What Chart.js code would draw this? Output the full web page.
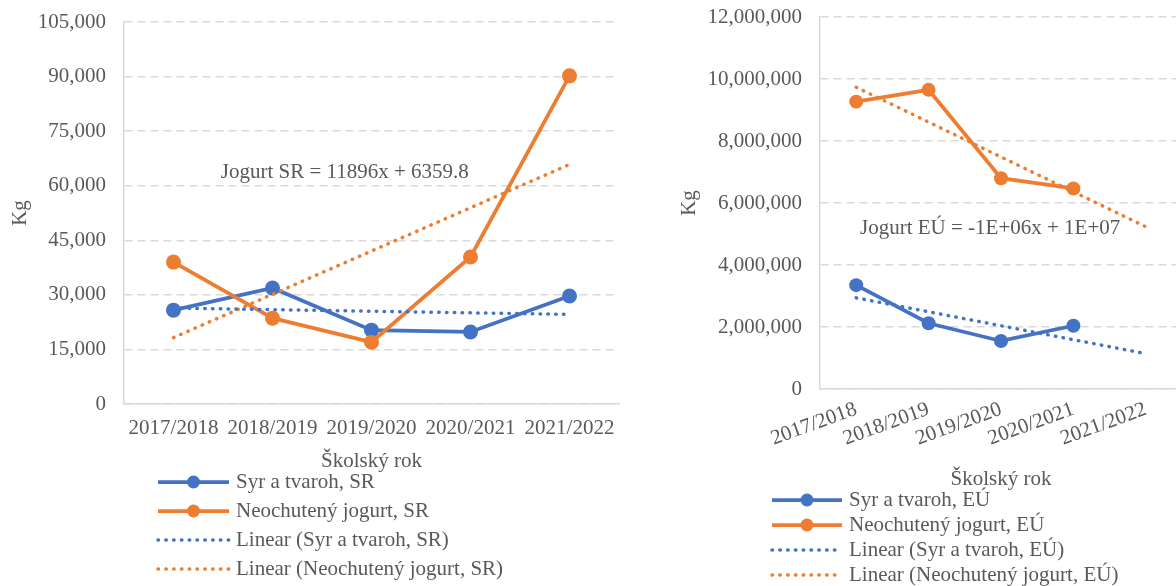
<!DOCTYPE html>
<html>
<head>
<meta charset="utf-8">
<script src="https://cdn.jsdelivr.net/npm/chart.js@4.4.0/dist/chart.umd.min.js"></script>
<style>
html, body {margin: 0; padding: 0; background: #fff; overflow: hidden; width: 1176px; height: 586px;}
#wrapSR {position: absolute; left: 0; top: 0; width: 640px; height: 586px;}
#wrapEU {position: absolute; left: 660px; top: 0; width: 540px; height: 586px;}
</style>
</head>
<body>
<div id="wrapSR"><canvas id="chartSR"></canvas></div>
<div id="wrapEU"><canvas id="chartEU"></canvas></div>
<script>
var years = ["2017/2018", "2018/2019", "2019/2020", "2020/2021", "2021/2022"];

// Slovensko (SR), kg
var syrSR = [25800, 31900, 20300, 19800, 29700];
var jogurtSR = [39000, 23600, 17000, 40400, 90200];
var trendSyrSR = [26360, 25930, 25500, 25070, 24640];
var trendJogurtSR = [18256, 30152, 42048, 53944, 65840];
var ticksSR = [0, 15000, 30000, 45000, 60000, 75000, 90000, 105000];

// EU, kg
var syrEU = [3350000, 2120000, 1550000, 2040000, null];
var jogurtEU = [9270000, 9650000, 6800000, 6470000, null];
var trendSyrEU = [2940000, 2490000, 2040000, 1590000, 1140000];
var trendJogurtEU = [9735000, 8610000, 7485000, 6360000, 5235000];
var ticksEU = [0, 2000000, 4000000, 6000000, 8000000, 10000000, 12000000];

var textSR = "Jogurt SR = 11896x + 6359.8";
var textEU = "Jogurt EÚ = -1E+06x + 1E+07";

var BLUE = "#4472C4";
var ORANGE = "#ED7D31";
var GREY = "#595959";
var GRID = "#D9D9D9";
var FONT = '"Liberation Serif", "Times New Roman", serif';

Chart.defaults.font.family = FONT;
Chart.defaults.font.size = 21;
Chart.defaults.color = GREY;

var legendPlugin = {
    id: "listLegend",
    afterDraw: function(chart, args, opts) {
        var ctx = chart.ctx;
        ctx.save();
        chart.data.datasets.forEach(function(ds, i) {
            var y = opts.top + i * opts.step;
            var dotted = ds.borderDash && ds.borderDash.length;
            ctx.strokeStyle = ds.borderColor;
            ctx.lineWidth = ds.borderWidth;
            ctx.lineCap = dotted ? "round" : "butt";
            ctx.setLineDash(dotted ? ds.borderDash : []);
            ctx.beginPath();
            ctx.moveTo(opts.left, y);
            ctx.lineTo(opts.left + opts.sample, y);
            ctx.stroke();
            if (ds.pointRadius) {
                ctx.setLineDash([]);
                ctx.fillStyle = ds.borderColor;
                ctx.beginPath();
                ctx.arc(opts.left + opts.sample / 2, y, 6.5, 0, Math.PI * 2);
                ctx.fill();
            }
            ctx.fillStyle = GREY;
            ctx.font = "21px " + FONT;
            ctx.textAlign = "left";
            ctx.textBaseline = "middle";
            ctx.fillText(ds.label, opts.left + opts.sample + 7, y);
        });
        ctx.restore();
    }
};

var trendLabelPlugin = {
    id: "trendLabel",
    afterDatasetsDraw: function(chart, args, opts) {
        var ctx = chart.ctx;
        var x = chart.scales.x.getPixelForValue(opts.at);
        var y = chart.scales.y.getPixelForValue(opts.value);
        ctx.save();
        ctx.fillStyle = GREY;
        ctx.font = "21px " + FONT;
        ctx.textAlign = "center";
        ctx.textBaseline = "middle";
        ctx.fillText(opts.text, x, y);
        ctx.restore();
    }
};

function makeSets(syr, jogurt, trendSyr, trendJogurt, suffix, radius) {
    return [
        {label: "Syr a tvaroh, " + suffix, data: syr, borderColor: BLUE, backgroundColor: BLUE,
         borderWidth: 3.75, pointRadius: radius, pointBackgroundColor: BLUE, pointBorderWidth: 0, order: 2},
        {label: "Neochutený jogurt, " + suffix, data: jogurt, borderColor: ORANGE, backgroundColor: ORANGE,
         borderWidth: 3.75, pointRadius: radius, pointBackgroundColor: ORANGE, pointBorderWidth: 0, order: 1},
        {label: "Linear (Syr a tvaroh, " + suffix + ")", data: trendSyr, borderColor: BLUE,
         borderWidth: 3.5, borderDash: [0.5, 7.3], borderCapStyle: "round", pointRadius: 0, order: 0},
        {label: "Linear (Neochutený jogurt, " + suffix + ")", data: trendJogurt, borderColor: ORANGE,
         borderWidth: 3.5, borderDash: [0.5, 7.3], borderCapStyle: "round", pointRadius: 0, order: 0}
    ];
}

function fmt(v) {
    return Number(v).toLocaleString("en-US");
}

function makeChart(id, sets, tickList, cfg) {
    return new Chart(document.getElementById(id), {
        type: "line",
        data: {labels: years, datasets: sets},
        options: {
            responsive: true,
            maintainAspectRatio: false,
            animation: false,
            events: [],
            layout: {padding: cfg.padding},
            plugins: {
                legend: {display: false},
                tooltip: {enabled: false},
                listLegend: cfg.legend,
                trendLabel: cfg.label
            },
            scales: {
                x: {
                    offset: true,
                    grid: {display: false, drawTicks: false},
                    border: {display: true, color: GRID, width: 1.5},
                    ticks: {padding: cfg.xPad, minRotation: cfg.rot, maxRotation: cfg.rot, autoSkip: false},
                    title: {display: true, text: "Školský rok", padding: {top: 4, bottom: 4}},
                    afterFit: function(scale) { scale.height = cfg.xHeight; }
                },
                y: {
                    min: tickList[0],
                    max: tickList[tickList.length - 1],
                    afterBuildTicks: function(scale) {
                        scale.ticks = tickList.map(function(v) { return {value: v}; });
                    },
                    grid: {color: GRID, lineWidth: 1.5, drawTicks: true, tickLength: 16, tickColor: "rgba(0,0,0,0)"},
                    border: {display: true, color: GRID, width: 1.5, dash: [8, 5]},
                    ticks: {padding: 2, callback: fmt},
                    title: {display: true, text: "Kg", padding: {top: cfg.kgPad, bottom: 0}},
                    afterFit: function(scale) { scale.width = cfg.yWidth; }
                }
            }
        },
        plugins: [legendPlugin, trendLabelPlugin]
    });
}

makeChart("chartSR", makeSets(syrSR, jogurtSR, trendSyrSR, trendJogurtSR, "SR", 7.5), ticksSR, {
    padding: {top: 22, right: 21, bottom: 108, left: 0},
    yWidth: 124,
    xHeight: 74,
    xPad: 12,
    rot: 0,
    kgPad: 8,
    legend: {left: 158, top: 482, step: 29, sample: 71},
    label: {text: textSR, at: 1.73, value: 63500}
});

makeChart("chartEU", makeSets(syrEU, jogurtEU, trendSyrEU, trendJogurtEU, "EÚ", 7), ticksEU, {
    padding: {top: 17, right: 18, bottom: 90, left: 11},
    yWidth: 149,
    xHeight: 107,
    xPad: 8,
    rot: 20,
    kgPad: 6,
    legend: {left: 112, top: 500, step: 25, sample: 70},
    label: {text: textEU, at: 1.85, value: 5190000}
});
</script>
</body>
</html>
